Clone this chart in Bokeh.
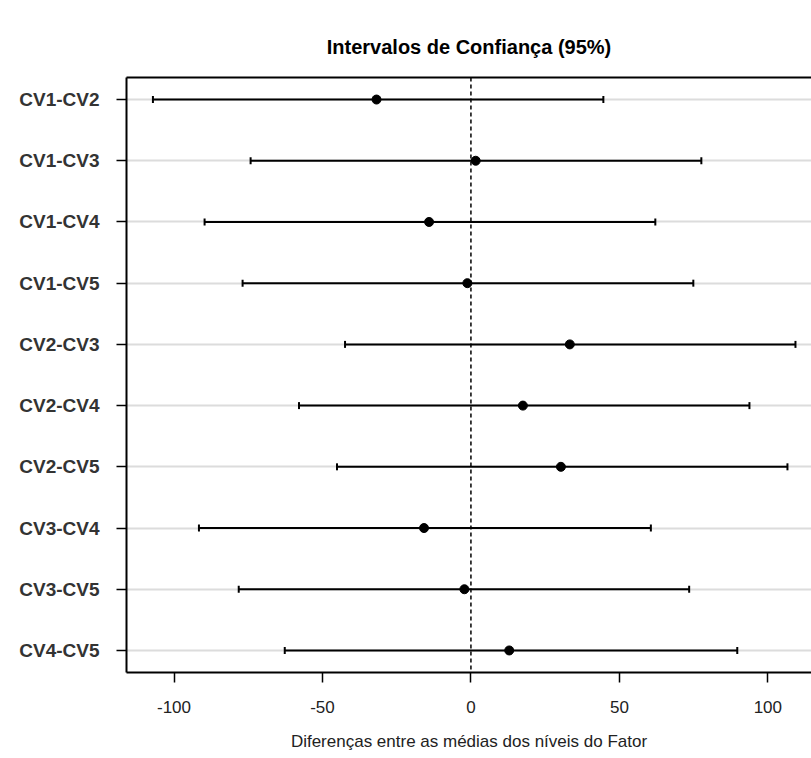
from bokeh.plotting import figure
from bokeh.models import Range1d, FixedTicker, LinearAxis, Span, ColumnDataSource
from bokeh.embed import file_html
from bokeh.resources import INLINE
import math

# Data
comparisons = ["CV1-CV2", "CV1-CV3", "CV1-CV4", "CV1-CV5", "CV2-CV3",
               "CV2-CV4", "CV2-CV5", "CV3-CV4", "CV3-CV5", "CV4-CV5"]
diff = [-31.8, 1.6, -14.1, -1.2, 33.3, 17.5, 30.3, -15.8, -2.2, 12.9]
lower = [-107.1, -74.2, -89.7, -76.9, -42.4, -57.9, -45.1, -91.6, -78.2, -62.7]
upper = [44.6, 77.6, 62.1, 74.9, 109.3, 93.8, 106.6, 60.6, 73.5, 89.7]
x_ticks = [-100, -50, 0, 50, 100]
x_tick_labels = ["-100", "-50", "0", "50", "100"]

pos = list(range(1, len(comparisons) + 1))
src = ColumnDataSource(dict(pos=pos, diff=diff, lower=lower, upper=upper))

p = figure(width=811, height=758, output_backend="svg", toolbar_location=None,
           x_range=Range1d(-116.0, 114.7),
           y_range=Range1d(len(pos) + 0.36, 0.64),
           min_border_left=126, min_border_right=0, min_border_top=77, min_border_bottom=86,
           background_fill_color="white", border_fill_color="white")
p.outline_line_color = None

FONT = "Liberation Sans"

# title
p.title.text = "Intervalos de Confiança (95%)"
p.title.text_font = FONT
p.title.text_font_size = "20px"
p.title.text_font_style = "bold"
p.title.text_color = "black"
p.title.align = "center"
p.title.standoff = 40

# grid
p.xgrid.grid_line_color = None
p.ygrid.ticker = FixedTicker(ticks=pos)
p.ygrid.grid_line_color = "#dcdcdc"
p.ygrid.grid_line_width = 2

# x axis
xa = p.xaxis[0]
xa.ticker = FixedTicker(ticks=x_ticks)
xa.major_label_overrides = {t: s for t, s in zip(x_ticks, x_tick_labels)}
xa.axis_line_color = "black"
xa.axis_line_width = 2
xa.major_tick_line_color = "black"
xa.major_tick_line_width = 1.5
xa.major_tick_out = 10
xa.major_tick_in = 0
xa.minor_tick_line_color = None
xa.major_label_text_font = FONT
xa.major_label_text_font_size = "17px"
xa.major_label_text_color = "#222222"
xa.major_label_standoff = 18
xa.axis_label = "Diferenças entre as médias dos níveis do Fator"
xa.axis_label_text_font = FONT
xa.axis_label_text_font_size = "17px"
xa.axis_label_text_font_style = "normal"
xa.axis_label_text_color = "#222222"
xa.axis_label_standoff = 16

# y axis
ya = p.yaxis[0]
ya.ticker = FixedTicker(ticks=pos)
ya.major_label_overrides = {i: c for i, c in zip(pos, comparisons)}
ya.axis_line_color = "black"
ya.axis_line_width = 2
ya.major_tick_line_color = "black"
ya.major_tick_line_width = 1.5
ya.major_tick_out = 10
ya.major_tick_in = 0
ya.minor_tick_line_color = None
ya.major_label_text_font = FONT
ya.major_label_text_font_size = "19px"
ya.major_label_text_font_style = "bold"
ya.major_label_text_color = "#333333"
ya.major_label_standoff = 17

# top border
top = LinearAxis(ticker=FixedTicker(ticks=[]), major_tick_out=0, major_tick_in=0,
                 minor_tick_out=0, minor_tick_in=0, major_label_text_font_size="0px",
                 axis_line_color="black", axis_line_width=2)
p.add_layout(top, "above")

# zero reference line
p.add_layout(Span(location=0, dimension="height", line_color="black",
                  line_dash="4 3", line_width=1.5))

# intervals
p.segment(x0="lower", x1="upper", y0="pos", y1="pos", source=src,
          line_color="black", line_width=2)
p.scatter(x="lower", y="pos", source=src, marker="dash", angle=math.pi / 2,
          size=7, line_color="black", line_width=2)
p.scatter(x="upper", y="pos", source=src, marker="dash", angle=math.pi / 2,
          size=7, line_color="black", line_width=2)
p.scatter(x="diff", y="pos", source=src, marker="circle", size=9,
          fill_color="black", line_color="black")

open("out.html", "w").write(file_html(p, INLINE))
